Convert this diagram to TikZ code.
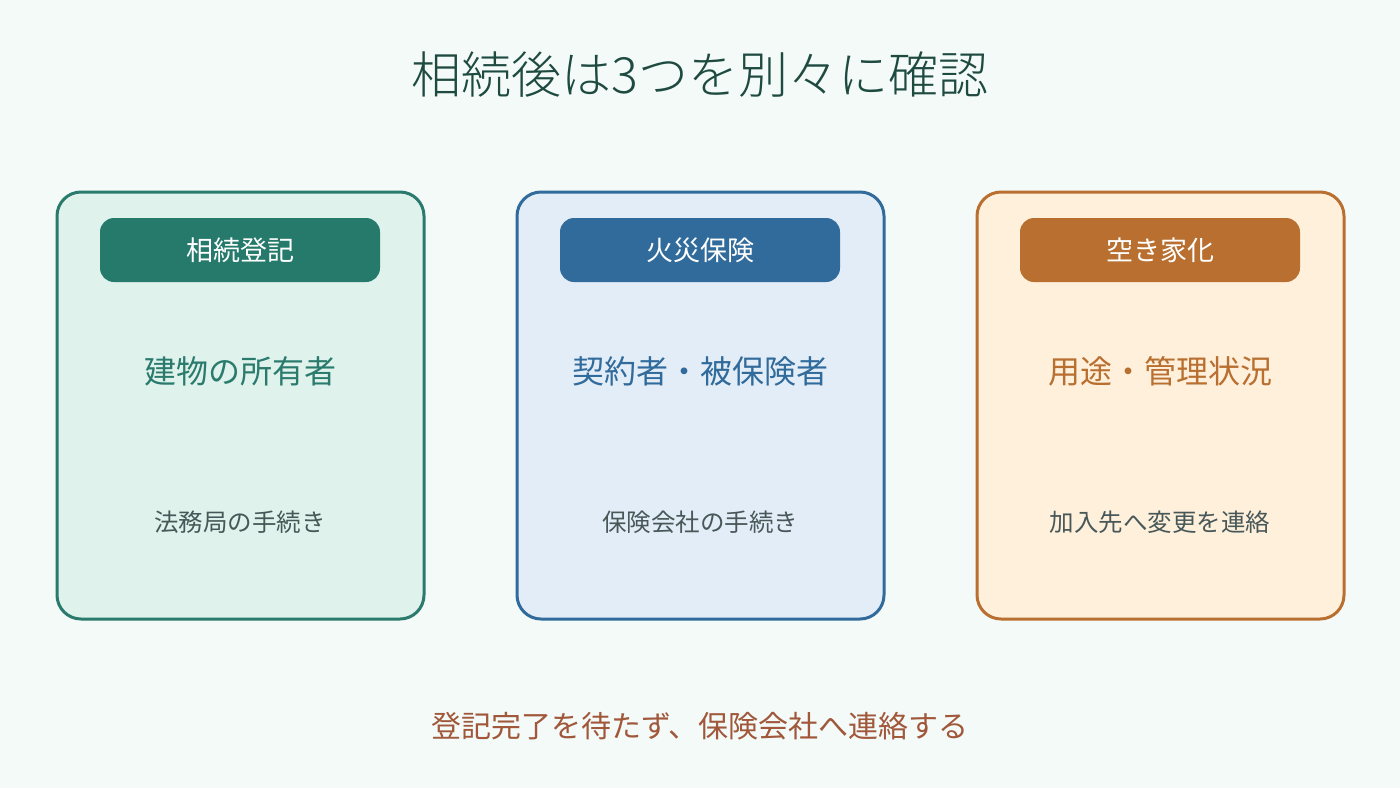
\documentclass[tikz,border=0pt]{standalone}
\usepackage{fontspec}
\setmainfont{Noto Sans CJK JP}
\newfontfamily\lightcjk{Noto Sans CJK JP Light}
\begin{document}
\begin{tikzpicture}[x=1pt,y=-1pt,
  card/.style={draw=#1, line width=3pt, rounded corners=24pt},
  hdr/.style={fill=#1, rounded corners=14pt, minimum width=280pt, minimum height=64pt, inner sep=0pt, text=white, font=\fontsize{27}{32}\selectfont},
  midt/.style={text=#1, font=\fontsize{32}{38}\selectfont, inner sep=0pt},
  bott/.style={text=txtgrey, font=\fontsize{24.5}{29}\selectfont, inner sep=0pt}]
\definecolor{bg}{HTML}{F3FAF8}
\definecolor{tealS}{HTML}{2A7B6D}
\definecolor{tealH}{HTML}{267A6B}
\definecolor{tealF}{HTML}{DFF2EC}
\definecolor{blueS}{HTML}{316B9B}
\definecolor{blueF}{HTML}{E3EDF7}
\definecolor{oranS}{HTML}{B86F30}
\definecolor{oranF}{HTML}{FFF0DC}
\definecolor{titlec}{HTML}{1E4A40}
\definecolor{footc}{HTML}{A0573A}
\definecolor{txtgrey}{HTML}{485858}
\fill[bg] (0,0) rectangle (1400,788);
\useasboundingbox (0,0) rectangle (1400,788);
\node[text=titlec, font=\lightcjk\fontsize{50}{58}\selectfont, inner sep=0pt] (title) at (700,75) {相続後は3つを別々に確認};
% cards
\draw[card=tealS, fill=tealF] (57,192) rectangle (424,619);
\draw[card=blueS, fill=blueF] (517,192) rectangle (884,619);
\draw[card=oranS, fill=oranF] (977,192) rectangle (1344,619);
\node[hdr=tealH] (h1) at (240,250) {相続登記};
\node[hdr=blueS] (h2) at (700,250) {火災保険};
\node[hdr=oranS] (h3) at (1160,250) {空き家化};
\node[midt=tealS] (m1) at (240,371) {建物の所有者};
\node[midt=blueS] (m2) at (700,371) {契約者・被保険者};
\node[midt=oranS] (m3) at (1160,371) {用途・管理状況};
\node[bott] (b1) at (240,522) {法務局の手続き};
\node[bott] (b2) at (700,522) {保険会社の手続き};
\node[bott] (b3) at (1160,522) {加入先へ変更を連絡};
\node[text=footc, font=\fontsize{30}{36}\selectfont, inner sep=0pt] (foot) at (700,726) {登記完了を待たず、保険会社へ連絡する};
\end{tikzpicture}
\end{document}
